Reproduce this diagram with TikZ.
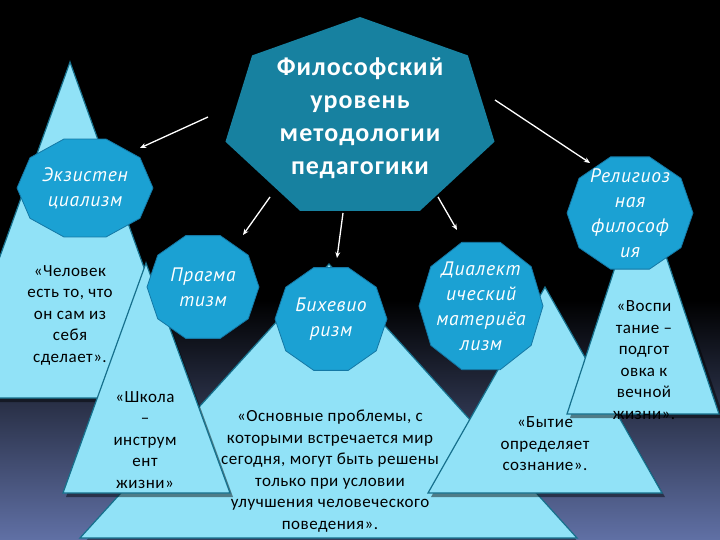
\documentclass[tikz,border=0pt]{standalone}
\usepackage{fontspec}
\setmainfont{Carlito}
\newfontfamily\decafont[LetterSpace=4]{PT Sans}
\newfontfamily\trifont[LetterSpace=3]{Carlito}
\newfontfamily\mainfont[LetterSpace=4]{Carlito}
\usetikzlibrary{arrows.meta}
\definecolor{tri}{RGB}{145,226,247}
\definecolor{triedge}{RGB}{22,112,140}
\definecolor{deca}{RGB}{27,161,211}
\definecolor{decaedge}{RGB}{20,120,165}
\definecolor{hepta}{RGB}{23,129,160}
\definecolor{bgbot}{RGB}{96,112,165}
\tikzset{
  tribox/.style={fill=tri, draw=triedge, line width=1.2pt},
  trishadow/.style={fill=black, opacity=0.45},
  decabox/.style={fill=deca, draw=decaedge, line width=0.8pt},
  heptabox/.style={fill=hepta},
  tritext/.style={align=center, text=black, font=\trifont\fontsize{17}{21.5}\selectfont},
  decatext/.style={align=center, text=white, font=\decafont\itshape\fontsize{19.5}{25}\selectfont},
  maintext/.style={align=center, text=white, font=\mainfont\bfseries\fontsize{26}{33}\selectfont},
  arr/.style={draw=white, line width=1.3pt, -{Stealth[length=6pt,width=5pt]}},
}
\newcommand\decagon[3]{% center, rx, ry
  \draw[decabox, shift={#1}] (0:#2 and #3) \foreach \a in {36,72,...,324}{ -- (\a:#2 and #3)} -- cycle;}
\begin{document}
\begin{tikzpicture}[x=1pt,y=-1pt]
\useasboundingbox (0,0) rectangle (720,540);
\begin{scope}
\clip (0,0) rectangle (720,540);
\fill[black] (0,0) rectangle (720,540);
\shade[top color=black, bottom color=bgbot] (0,300) rectangle (720,540);
% triangle 1 (left)
\fill[trishadow] (73,66) -- (194,402) -- (-48,402) -- cycle;
\draw[tribox] (70,62) -- (191,398) -- (-51,398) -- cycle;
% triangle 3 (big, centre)
\fill[trishadow] (332,268) -- (580,544) -- (83,544) -- cycle;
\draw[tribox] (329,264) -- (577,538) -- (80,538) -- cycle;
% triangle 2 (Школа)
\fill[trishadow] (149,267) -- (233,497) -- (66,497) -- cycle;
\draw[tribox] (146,263) -- (230,493) -- (63,493) -- cycle;
% triangle 4 (Бытие)
\fill[trishadow] (548,291) -- (665,497) -- (431,497) -- cycle;
\draw[tribox] (545,287) -- (662,493) -- (428,493) -- cycle;
% triangle 5 (Религиозная)
\fill[trishadow] (645,189) -- (724,418) -- (570,418) -- cycle;
\draw[tribox] (642,185) -- (719,414) -- (567,414) -- cycle;
\end{scope}
% triangle texts
\node[tritext] (t1) at (70,315) {«Человек\\есть то, что\\он сам из\\себя\\сделает».};
\node[tritext] (t2) at (145,440) {«Школа\\–\\инструм\\ент\\жизни»};
\node[tritext] (t3) at (330,471) {«Основные проблемы, с\\которыми встречается мир\\сегодня, могут быть решены\\только при условии\\улучшения человеческого\\поведения».};
\node[tritext] (t4) at (545,444) {«Бытие\\определяет\\сознание».};
\node[tritext] (t5) at (644,360) {«Воспи\\тание –\\подгот\\овка к\\вечной\\жизни».};
% decagons
\decagon{(85,188)}{68}{51.5}
\node[decatext] (ex) at (85,188) {Экзистен\\циализм};
\decagon{(203,287)}{56}{54}
\node[decatext] (pr) at (203,287) {Прагма\\тизм};
\decagon{(331,319)}{56}{54}
\node[decatext] (bh) at (331,319) {Бихевио\\ризм};
\decagon{(481,306)}{62}{67}
\node[decatext] (dm) at (481,306) {Диалект\\ический\\материёа\\лизм};
\decagon{(630,213)}{63}{59}
\node[decatext] (rf) at (630,213) {Религиоз\\ная\\философ\\ия};
% heptagon
\fill[heptabox, shift={(360,119)}] (270:138 and 102) \foreach \k in {1,...,6}{ -- ({270+\k*360/7}:138 and 102)} -- cycle;
\node[maintext] (main) at (360,118) {Философский\\уровень\\методологии\\педагогики};
% arrows
\coordinate (s1) at (208,117); \coordinate (e1) at (140,148);
\coordinate (s2) at (270,197); \coordinate (e2) at (243,235);
\coordinate (s3) at (343,213); \coordinate (e3) at (337,258);
\coordinate (s4) at (438,197); \coordinate (e4) at (457,230);
\coordinate (s5) at (495,100); \coordinate (e5) at (590,163);
\draw[arr] (s1) -- (e1);
\draw[arr] (s2) -- (e2);
\draw[arr] (s3) -- (e3);
\draw[arr] (s4) -- (e4);
\draw[arr] (s5) -- (e5);
\end{tikzpicture}
\end{document}
